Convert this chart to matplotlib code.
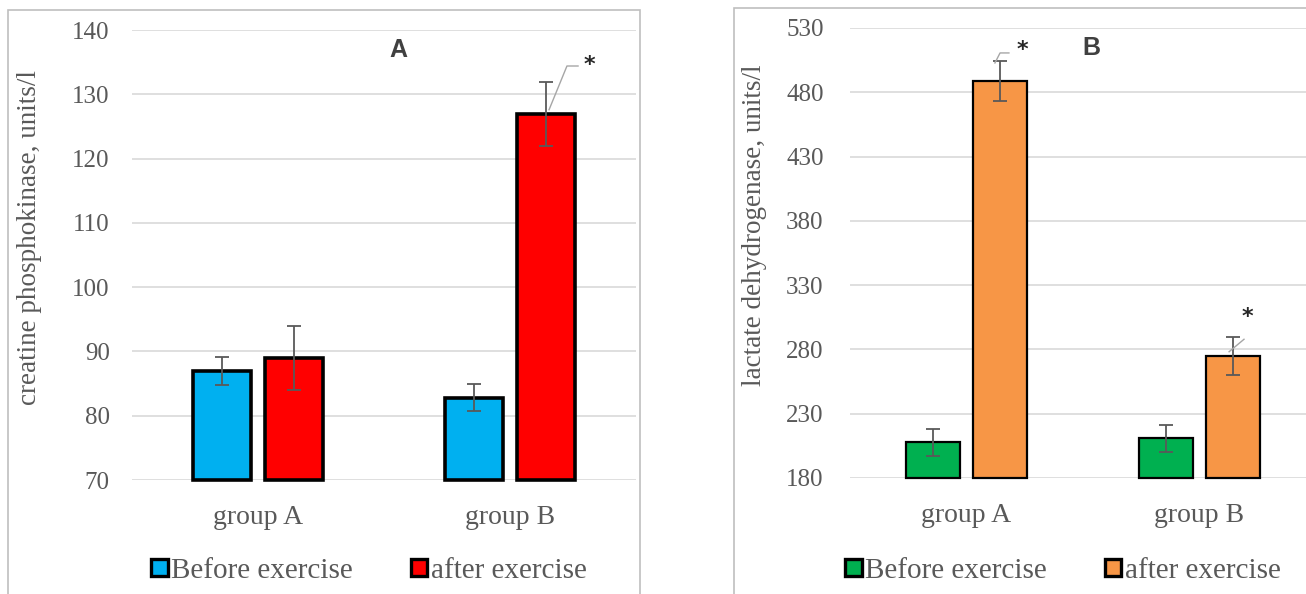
import matplotlib
matplotlib.use("Agg")
import matplotlib.pyplot as plt
from matplotlib.patches import Rectangle
import numpy as np

groups = ["group A", "group B"]
series = ["Before exercise", "after exercise"]

cpk_before = [87, 82.8]
cpk_before_err = [2.2, 2.1]
cpk_after = [89, 126.9]
cpk_after_err = [5, 5]

ldh_before = [208, 211]
ldh_before_err = [10.5, 10.5]
ldh_after = [489, 275]
ldh_after_err = [15.5, 15]

cpk_ticks = [70, 80, 90, 100, 110, 120, 130, 140]
ldh_ticks = [180, 230, 280, 330, 380, 430, 480, 530]

W, H = 1306, 594
fig = plt.figure(figsize=(W / 100, H / 100), dpi=100)

serif = "Liberation Serif"
sans = "Liberation Sans"
gray = "#595959"
grid_c = "#d9d9d9"


def fx(px):
    return px / W


def fy(py):
    return (H - py) / H


# panel borders
fig.patches.append(Rectangle((fx(8), fy(H + 5)), fx(640 - 8), fy(10) - fy(H + 5),
                             transform=fig.transFigure, fill=False,
                             edgecolor="#bfbfbf", linewidth=1.2))
fig.patches.append(Rectangle((fx(734), fy(H + 5)), fx(W + 50 - 734), fy(8) - fy(H + 5),
                             transform=fig.transFigure, fill=False,
                             edgecolor="#bfbfbf", linewidth=1.2))


def panel(rect, before, berr, after, aerr, ticks, ylabel, colors, edge_lw, title, title_xy,
          ylabel_xy, legend_center, stars, ypad):
    ax = fig.add_axes(rect)
    x = np.arange(len(groups))
    w = 0.232
    off = 0.142
    b1 = ax.bar(x - off, [v - ticks[0] for v in before], w, bottom=ticks[0], color=colors[0],
                edgecolor="black", linewidth=edge_lw, label=series[0], clip_on=False, zorder=3)
    b2 = ax.bar(x + off, [v - ticks[0] for v in after], w, bottom=ticks[0], color=colors[1],
                edgecolor="black", linewidth=edge_lw, label=series[1], clip_on=False, zorder=3)
    ax.errorbar(x - off, before, yerr=berr, fmt="none", ecolor=gray, elinewidth=1.3,
                capsize=5, capthick=1.3, zorder=4)
    ax.errorbar(x + off, after, yerr=aerr, fmt="none", ecolor=gray, elinewidth=1.3,
                capsize=5, capthick=1.3, zorder=4)
    ax.set_xlim(-0.5, 1.5)
    ax.set_ylim(ticks[0], ticks[-1])
    ax.set_yticks(ticks)
    ax.set_yticklabels([str(t) for t in ticks], fontfamily=serif, fontsize=18, color=gray)
    ax.set_xticks(x)
    ax.set_xticklabels(groups, fontfamily=serif, fontsize=20, color=gray)
    ax.tick_params(axis="both", length=0)
    ax.tick_params(axis="y", pad=ypad)
    ax.tick_params(axis="x", pad=18)
    for s in ax.spines.values():
        s.set_visible(False)
    ax.yaxis.grid(True, color=grid_c, linewidth=1.2, zorder=0)
    ax.set_axisbelow(True)
    fig.text(ylabel_xy[0], ylabel_xy[1], ylabel, rotation=90, ha="center", va="center",
             fontfamily=serif, fontsize=19.5, color=gray)
    fig.text(title_xy[0], title_xy[1], title, fontfamily=sans, fontweight="bold", fontsize=18,
             color="#404040", ha="center", va="center")
    for pts, star in stars:
        xs, ys = zip(*pts)
        ax.plot(xs, ys, color="#a6a6a6", linewidth=1, zorder=5, clip_on=False)
        ax.text(star[0], star[1], "*", ha="center", va="center", fontsize=16,
                fontweight="bold", color="#262626", zorder=6)
    leg = fig.legend(handles=[b1, b2], labels=series, loc="center",
                     bbox_to_anchor=legend_center, ncol=2, frameon=False,
                     prop={"family": serif, "size": 21}, handlelength=0.55, handleheight=0.55,
                     handletextpad=0.12, columnspacing=2.0)
    for t in leg.get_texts():
        t.set_color(gray)
    for hnd in leg.legend_handles:
        hnd.set_linewidth(2.4)
    return ax


panel([fx(132), fy(480), fx(504), (480 - 30) / H], cpk_before, cpk_before_err, cpk_after,
      cpk_after_err, cpk_ticks, "creatine phosphokinase, units/l", ["#00b0f0", "#ff0000"], 2.6,
      "A", (fx(398), fy(50)), (fx(30), fy(238)), (fx(369), fy(571)),
      [([(1.155, 127.6), (1.226, 134.4), (1.270, 134.4)], (1.317, 134.6))], 16)

panel([fx(850), fy(478), fx(466), (478 - 28) / H], ldh_before, ldh_before_err, ldh_after,
      ldh_after_err, ldh_ticks, "lactate dehydrogenase, units/l", ["#00b050", "#f79646"], 1.6,
      "B", (fx(1091), fy(48)), (fx(755), fy(225)), (fx(1063), fy(571)),
      [([(0.122, 502.8), (0.144, 510.6), (0.182, 510.6)], (0.238, 513.0)),
       ([(1.127, 278.2), (1.191, 287.9)], (1.204, 305.0))], 19)

fig.savefig("out.png", dpi=100)
